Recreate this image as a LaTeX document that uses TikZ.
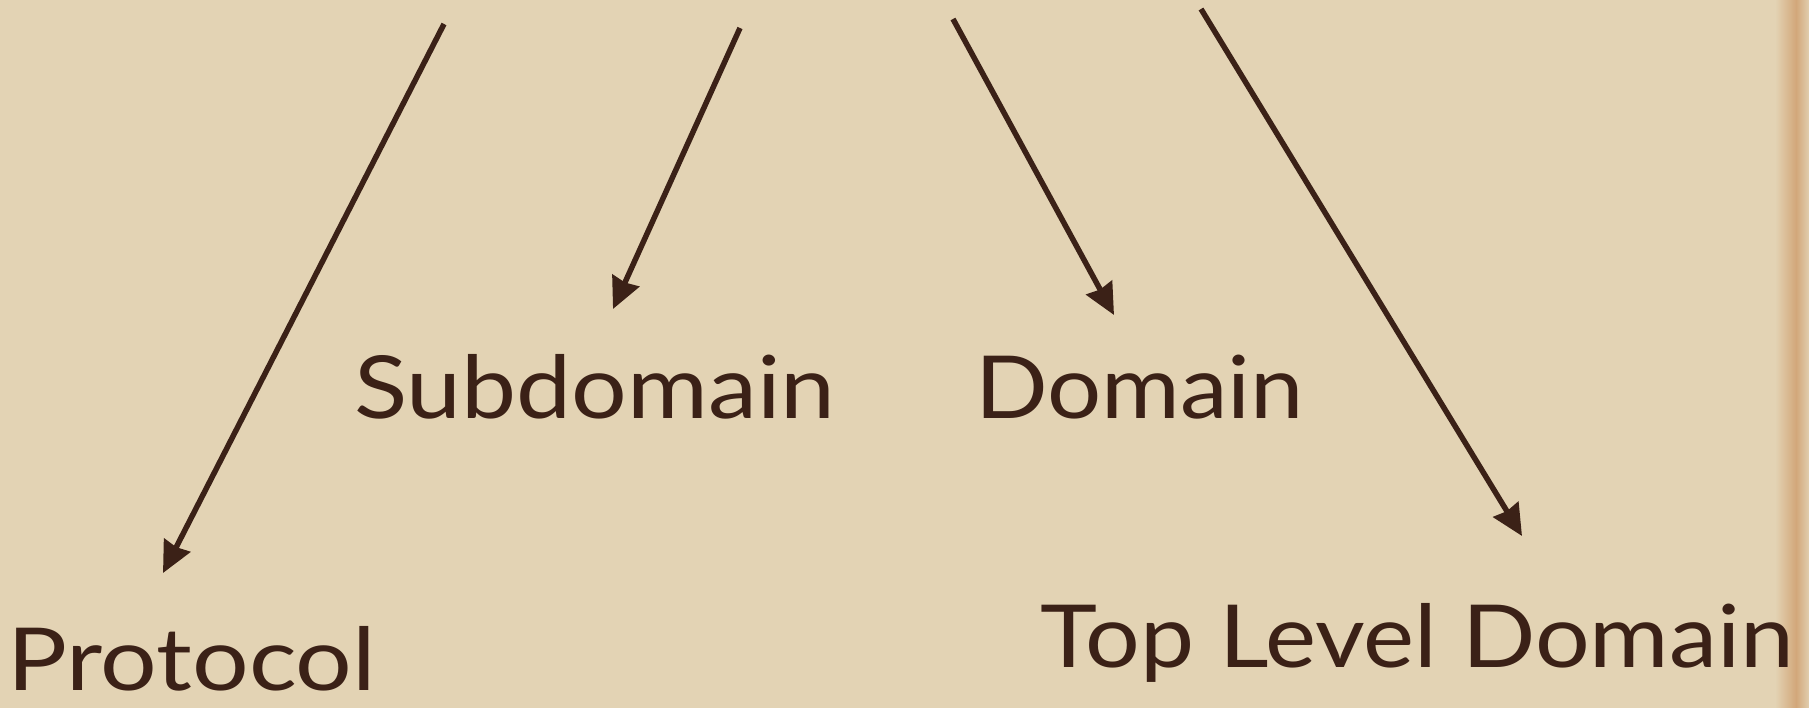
\documentclass[tikz,border=0pt]{standalone}
\usepackage{fontspec}
\setmainfont{Lato}
\usetikzlibrary{arrows.meta}
\definecolor{paper}{HTML}{E3D3B4}
\definecolor{paperdark}{HTML}{D2A77A}
\definecolor{ink}{HTML}{3B2117}
\newcommand{\wide}[2][1.09]{\scalebox{#1}[1]{#2}}
\tikzset{
  lbl/.style={anchor=base west, inner sep=0pt, text=ink, font=\fontsize{87}{100}\selectfont},
  arr/.style={draw=ink, line width=5.5pt, -{Stealth[length=31pt,width=29pt,inset=2pt]}}
}
\begin{document}
\begin{tikzpicture}[x=1pt,y=-1pt]
\useasboundingbox (0,0) rectangle (1809,708);
\fill[paper] (0,0) rectangle (1809,708);
\shade[left color=paper, right color=paperdark] (1775,0) rectangle (1796,708);
\shade[left color=paperdark, right color=paper!90!paperdark] (1796,0) rectangle (1809,708);
% labels
\node[lbl] (sub) at (354,418) {\wide[1.13]{Subdomain}};
\node[lbl] (dom) at (975,418) {\wide[1.1]{Domain}};
\node[lbl] (pro) at (7,690) {\wide[1.15]{Protocol}};
\node[lbl] (tld) at (1040,667) {\wide[1.11]{Top Level Domain}};
% arrow ends
\coordinate (t1) at (444,24);
\coordinate (h1) at (163,573);
\coordinate (t2) at (740,28);
\coordinate (h2) at (613,309);
\coordinate (t3) at (953,19);
\coordinate (h3) at (1114,315);
\coordinate (t4) at (1201,9);
\coordinate (h4) at (1522,536);
\draw[arr] (t1) -- (h1);
\draw[arr] (t2) -- (h2);
\draw[arr] (t3) -- (h3);
\draw[arr] (t4) -- (h4);
\end{tikzpicture}
\end{document}
